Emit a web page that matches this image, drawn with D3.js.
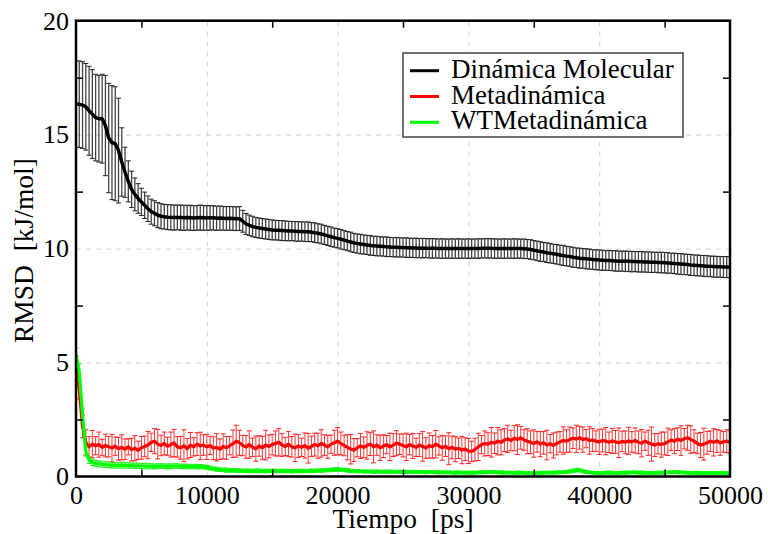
<!DOCTYPE html>
<html><head><meta charset="utf-8">
<script src="https://cdn.jsdelivr.net/npm/d3@7"></script>
<style>body{margin:0;background:#fff}svg{display:block}</style>
</head><body><svg id="c" width="768" height="534"></svg>
<script>
// time step of the samples (ps)
const STEP = 250;

// Dinámica Molecular: mean RMSD and error
const dmMean = [
16.35,16.33,16.30,16.22,16.05,15.90,15.75,15.70,15.70,15.40,14.85,14.65,14.60,14.30,13.80,13.35,12.95,12.60,12.38,12.20,
12.05,11.90,11.75,11.62,11.55,11.47,11.42,11.40,11.38,11.37,11.36,11.37,11.36,11.35,11.36,11.35,11.34,11.35,11.36,11.35,
11.34,11.35,11.35,11.33,11.34,11.33,11.32,11.33,11.32,11.31,11.32,11.20,11.08,11.02,10.97,10.93,10.90,10.88,10.86,10.84,
10.82,10.81,10.80,10.79,10.78,10.77,10.77,10.76,10.75,10.75,10.74,10.74,10.72,10.70,10.67,10.64,10.60,10.56,10.52,10.48,
10.45,10.41,10.37,10.33,10.29,10.25,10.22,10.20,10.18,10.16,10.14,10.12,10.11,10.10,10.09,10.08,10.07,10.06,10.06,10.05,
10.05,10.04,10.04,10.03,10.03,10.02,10.02,10.02,10.01,10.01,10.01,10.00,10.00,10.00,10.00,10.00,10.00,10.00,10.00,10.00,
10.00,10.00,10.00,10.00,10.01,10.01,10.01,10.01,10.00,10.00,10.00,10.00,10.00,10.00,10.00,10.00,10.00,9.99,9.98,9.96,
9.93,9.90,9.87,9.85,9.82,9.80,9.77,9.75,9.72,9.70,9.67,9.65,9.62,9.60,9.58,9.57,9.55,9.54,9.52,9.51,
9.50,9.49,9.48,9.48,9.47,9.46,9.45,9.45,9.44,9.44,9.43,9.43,9.42,9.42,9.41,9.41,9.40,9.40,9.39,9.39,
9.38,9.37,9.36,9.35,9.33,9.32,9.31,9.30,9.28,9.27,9.26,9.25,9.24,9.23,9.22,9.21,9.20,9.20,9.19,9.19,
9.18];
const dmErr = [
1.90,1.90,1.90,1.90,1.95,1.95,1.90,1.90,1.95,2.20,2.40,2.50,2.50,2.30,1.50,1.10,0.90,0.80,0.72,0.65,
0.60,0.58,0.56,0.55,0.55,0.55,0.55,0.54,0.55,0.55,0.55,0.54,0.55,0.55,0.54,0.55,0.54,0.54,0.55,0.54,
0.54,0.54,0.53,0.53,0.53,0.52,0.52,0.52,0.52,0.52,0.52,0.48,0.46,0.45,0.45,0.44,0.44,0.44,0.44,0.44,
0.44,0.43,0.43,0.44,0.43,0.43,0.42,0.43,0.43,0.42,0.43,0.43,0.42,0.43,0.42,0.43,0.42,0.42,0.43,0.42,
0.42,0.43,0.42,0.42,0.43,0.42,0.42,0.43,0.42,0.42,0.43,0.42,0.43,0.42,0.42,0.43,0.42,0.42,0.43,0.42,
0.42,0.43,0.42,0.42,0.43,0.42,0.43,0.42,0.42,0.43,0.42,0.42,0.43,0.42,0.42,0.43,0.42,0.43,0.42,0.42,
0.43,0.42,0.42,0.43,0.42,0.42,0.43,0.42,0.43,0.42,0.42,0.43,0.42,0.42,0.43,0.42,0.42,0.43,0.42,0.43,
0.42,0.43,0.43,0.42,0.43,0.43,0.42,0.43,0.43,0.44,0.43,0.43,0.44,0.43,0.44,0.43,0.44,0.44,0.43,0.44,
0.44,0.44,0.43,0.44,0.44,0.45,0.44,0.44,0.45,0.44,0.45,0.44,0.45,0.45,0.44,0.45,0.45,0.44,0.45,0.45,
0.45,0.45,0.44,0.45,0.45,0.46,0.45,0.45,0.46,0.45,0.46,0.45,0.46,0.46,0.45,0.46,0.46,0.45,0.46,0.46,
0.46];

// Metadinámica: mean RMSD and error
const mdMean = [
5.00,3.80,2.20,1.50,1.30,1.42,1.35,1.40,1.28,1.36,1.31,1.25,1.33,1.22,1.28,1.20,1.30,1.18,1.24,1.15,
1.26,1.32,1.38,1.50,1.55,1.42,1.36,1.45,1.33,1.40,1.47,1.30,1.26,1.35,1.22,1.38,1.30,1.42,1.34,1.38,
1.30,1.36,1.24,1.28,1.20,1.32,1.26,1.35,1.44,1.55,1.48,1.36,1.30,1.40,1.28,1.22,1.34,1.26,1.38,1.32,
1.40,1.45,1.50,1.38,1.32,1.42,1.30,1.26,1.34,1.28,1.36,1.24,1.32,1.40,1.35,1.45,1.38,1.30,1.42,1.48,
1.55,1.45,1.36,1.28,1.20,1.16,1.26,1.34,1.28,1.36,1.42,1.30,1.38,1.26,1.33,1.40,1.30,1.38,1.46,1.42,
1.36,1.30,1.40,1.34,1.28,1.38,1.32,1.25,1.36,1.30,1.42,1.34,1.26,1.33,1.22,1.28,1.20,1.24,1.16,1.20,
1.12,1.10,1.18,1.30,1.40,1.45,1.42,1.50,1.46,1.55,1.50,1.60,1.65,1.58,1.68,1.62,1.70,1.60,1.55,1.50,
1.45,1.52,1.42,1.48,1.38,1.44,1.36,1.45,1.52,1.58,1.55,1.62,1.68,1.65,1.70,1.62,1.66,1.58,1.60,1.55,
1.52,1.58,1.55,1.50,1.56,1.52,1.48,1.54,1.50,1.56,1.52,1.58,1.50,1.46,1.55,1.48,1.42,1.38,1.44,1.40,
1.45,1.52,1.60,1.55,1.64,1.58,1.66,1.70,1.62,1.55,1.45,1.38,1.42,1.48,1.55,1.50,1.56,1.48,1.52,1.55,
1.50];
const mdErr = [
0.30,0.40,0.50,0.55,0.45,0.60,0.40,0.55,0.35,0.50,0.45,0.60,0.40,0.50,0.55,0.45,0.35,0.50,0.55,0.40,
0.50,0.45,0.60,0.40,0.55,0.65,0.45,0.50,0.40,0.55,0.60,0.45,0.50,0.70,0.45,0.55,0.40,0.50,0.60,0.45,
0.55,0.40,0.50,0.60,0.45,0.55,0.50,0.40,0.60,0.70,0.55,0.45,0.50,0.60,0.40,0.55,0.45,0.50,0.65,0.50,
0.45,0.55,0.60,0.50,0.40,0.55,0.45,0.60,0.50,0.40,0.55,0.65,0.45,0.50,0.55,0.60,0.45,0.50,0.40,0.55,
0.60,0.50,0.45,0.55,0.65,0.50,0.40,0.55,0.45,0.60,0.50,0.70,0.45,0.55,0.50,0.40,0.60,0.50,0.55,0.45,
0.50,0.60,0.45,0.55,0.40,0.50,0.65,0.45,0.55,0.50,0.60,0.40,0.55,0.45,0.70,0.50,0.55,0.45,0.60,0.50,
0.55,0.45,0.50,0.60,0.40,0.55,0.50,0.65,0.45,0.60,0.55,0.50,0.60,0.45,0.55,0.65,0.50,0.45,0.55,0.50,
0.60,0.45,0.55,0.50,0.65,0.40,0.55,0.50,0.45,0.60,0.50,0.55,0.45,0.60,0.50,0.55,0.40,0.60,0.50,0.45,
0.55,0.50,0.60,0.45,0.55,0.50,0.65,0.45,0.50,0.60,0.45,0.55,0.50,0.60,0.40,0.55,0.75,0.50,0.45,0.55,
0.50,0.60,0.45,0.55,0.50,0.65,0.45,0.55,0.60,0.50,0.45,0.55,0.70,0.50,0.45,0.60,0.50,0.55,0.45,0.50,
0.50];

// WTMetadinámica: mean RMSD and error
const wtMean = [
5.35,4.60,2.70,1.10,0.72,0.62,0.57,0.55,0.54,0.52,0.51,0.50,0.49,0.49,0.50,0.49,0.48,0.48,0.47,0.47,
0.46,0.46,0.45,0.45,0.44,0.45,0.46,0.45,0.44,0.45,0.46,0.46,0.45,0.44,0.44,0.43,0.44,0.43,0.43,0.42,
0.40,0.37,0.34,0.32,0.30,0.29,0.28,0.27,0.27,0.26,0.26,0.25,0.25,0.25,0.24,0.25,0.25,0.24,0.24,0.25,
0.25,0.24,0.24,0.25,0.24,0.24,0.23,0.24,0.24,0.25,0.24,0.24,0.25,0.25,0.26,0.26,0.27,0.28,0.29,0.30,
0.31,0.30,0.29,0.27,0.25,0.24,0.23,0.23,0.22,0.22,0.22,0.21,0.22,0.21,0.21,0.22,0.21,0.21,0.20,0.21,
0.20,0.20,0.21,0.20,0.20,0.20,0.19,0.19,0.20,0.19,0.19,0.18,0.18,0.18,0.18,0.17,0.17,0.18,0.17,0.17,
0.17,0.17,0.17,0.18,0.18,0.19,0.19,0.20,0.19,0.18,0.18,0.17,0.17,0.17,0.16,0.17,0.17,0.16,0.16,0.16,
0.16,0.16,0.16,0.17,0.17,0.17,0.17,0.18,0.18,0.19,0.20,0.22,0.25,0.28,0.27,0.23,0.20,0.18,0.17,0.16,
0.16,0.16,0.17,0.17,0.16,0.16,0.16,0.17,0.17,0.17,0.18,0.18,0.17,0.17,0.16,0.16,0.16,0.16,0.17,0.17,
0.17,0.18,0.18,0.19,0.19,0.18,0.17,0.17,0.16,0.16,0.16,0.15,0.15,0.15,0.16,0.16,0.15,0.15,0.15,0.15,
0.15];
const wtErr = [
0.30,0.35,0.30,0.20,0.15,0.14,0.14,0.13,0.13,0.13,0.12,0.13,0.12,0.12,0.13,0.12,0.12,0.11,0.12,0.11,
0.11,0.12,0.11,0.11,0.10,0.11,0.10,0.10,0.11,0.10,0.10,0.10,0.09,0.10,0.10,0.09,0.09,0.10,0.09,0.09,
0.09,0.09,0.08,0.09,0.08,0.08,0.09,0.08,0.08,0.08,0.08,0.07,0.08,0.08,0.07,0.08,0.08,0.07,0.08,0.07,
0.07,0.08,0.07,0.07,0.08,0.07,0.07,0.07,0.08,0.07,0.07,0.07,0.08,0.07,0.07,0.08,0.07,0.07,0.08,0.08,
0.08,0.07,0.07,0.08,0.07,0.07,0.07,0.06,0.07,0.07,0.06,0.07,0.07,0.06,0.07,0.06,0.07,0.06,0.06,0.07,
0.06,0.07,0.06,0.06,0.07,0.06,0.06,0.07,0.06,0.06,0.06,0.07,0.06,0.06,0.06,0.06,0.07,0.06,0.06,0.06,
0.06,0.07,0.06,0.06,0.06,0.07,0.06,0.06,0.06,0.06,0.07,0.06,0.06,0.06,0.06,0.07,0.06,0.06,0.06,0.06,
0.06,0.06,0.07,0.06,0.06,0.06,0.06,0.07,0.06,0.06,0.07,0.07,0.08,0.08,0.07,0.07,0.06,0.06,0.06,0.06,
0.06,0.06,0.06,0.07,0.06,0.06,0.06,0.06,0.07,0.06,0.06,0.06,0.06,0.07,0.06,0.06,0.06,0.06,0.06,0.07,
0.06,0.06,0.06,0.06,0.07,0.06,0.06,0.06,0.06,0.06,0.07,0.06,0.06,0.06,0.06,0.06,0.06,0.07,0.06,0.06,
0.06];

// Axes ticks and labels
const xMajor = [0, 10000, 20000, 30000, 40000, 50000];
const xMinor = [5000, 15000, 25000, 35000, 45000];
const yMajor = [0, 5, 10, 15, 20];
const yMinor = [2.5, 7.5, 12.5, 17.5];
const xTitle = "Tiempo  [ps]";
const yTitle = "RMSD  [kJ/mol]";
const legendLabels = ["Dinámica Molecular", "Metadinámica", "WTMetadinámica"];
const colors = ["#000000", "#ff0000", "#00ff00"];

const time = dmMean.map((_, i) => i * STEP);

const FONT = "'Liberation Serif','Times New Roman',serif";
const svg = d3.select("#c");
const L = 76, R = 730, T = 20.7, B = 476.5;
const x = d3.scaleLinear().domain([0, 50000]).range([L, R]);
const y = d3.scaleLinear().domain([0, 20]).range([B, T]);

svg.append("rect").attr("width", 768).attr("height", 534).attr("fill", "#fff");

// grid (dashed)
const gx = svg.append("g").attr("transform", `translate(0,${B})`)
  .call(d3.axisBottom(x).tickValues(xMajor.slice(1, -1)).tickSize(-(B - T)).tickFormat(""));
const gy = svg.append("g").attr("transform", `translate(${L},0)`)
  .call(d3.axisLeft(y).tickValues(yMajor.slice(1, -1)).tickSize(-(R - L)).tickFormat(""));
[gx, gy].forEach(g => {
  g.select(".domain").remove();
  g.selectAll("line").attr("stroke", "#d4d4d4").attr("stroke-width", 1).attr("stroke-dasharray", "5,5");
});

// data
svg.append("defs").append("clipPath").attr("id", "clip")
  .append("rect").attr("x", L).attr("y", T).attr("width", R - L).attr("height", B - T);
const plot = svg.append("g").attr("clip-path", "url(#clip)");

const series = [
  { m: dmMean, e: dmErr, c: colors[0], bar: "#444", cap: "#222", w: 3.5, bw: 1.3 },
  { m: mdMean, e: mdErr, c: colors[1], bar: "#ff3b3b", cap: "#ff2020", w: 3.2, bw: 1 },
  { m: wtMean, e: wtErr, c: colors[2], bar: "#30ff30", cap: "#20ee20", w: 3.2, bw: 1 }
];
series.forEach(s => {
  let bars = "", caps = "";
  s.m.forEach((v, i) => {
    const px = x(time[i]), y1 = y(v + s.e[i]), y2 = y(v - s.e[i]);
    bars += `M${px},${y1}L${px},${y2}`;
    caps += `M${px - 2.5},${y1}h5M${px - 2.5},${y2}h5`;
  });
  plot.append("path").attr("d", bars).attr("stroke", s.bar).attr("stroke-width", s.bw).attr("fill", "none");
  plot.append("path").attr("d", caps).attr("stroke", s.cap).attr("stroke-width", 1).attr("fill", "none");
  plot.append("path").datum(s.m)
    .attr("d", d3.line().x((d, i) => x(time[i])).y(d => y(d)))
    .attr("fill", "none").attr("stroke", s.c).attr("stroke-width", s.w)
    .attr("stroke-linejoin", "round");
});

// minor ticks inward on all four sides
const tk = 7;
[[d3.axisBottom(x).tickValues(xMinor), `translate(0,${B})`],
 [d3.axisTop(x).tickValues(xMinor), `translate(0,${T})`],
 [d3.axisLeft(y).tickValues(yMinor), `translate(${L},0)`],
 [d3.axisRight(y).tickValues(yMinor), `translate(${R},0)`]].forEach(([ax, tr]) => {
  const g = svg.append("g").attr("transform", tr).call(ax.tickSize(-tk).tickFormat(""));
  g.select(".domain").remove();
  g.selectAll("line").attr("stroke", "#000").attr("stroke-width", 1.5);
});

// tick labels
const xl = svg.append("g").attr("transform", `translate(0,${B})`)
  .call(d3.axisBottom(x).tickValues(xMajor).tickSize(0).tickFormat(d3.format("d")));
xl.select(".domain").remove();
xl.selectAll("text").attr("y", 27.5).attr("dy", 0)
  .attr("font-family", FONT).attr("font-size", 26).attr("fill", "#000");

const yl = svg.append("g").attr("transform", `translate(${L},0)`)
  .call(d3.axisLeft(y).tickValues(yMajor).tickSize(0).tickPadding(7).tickFormat(d3.format("d")));
yl.select(".domain").remove();
yl.selectAll("text").attr("font-family", FONT).attr("font-size", 26).attr("fill", "#000");

// frame
svg.append("rect").attr("x", L).attr("y", T).attr("width", R - L).attr("height", B - T)
  .attr("fill", "none").attr("stroke", "#000").attr("stroke-width", 2.5);

// axis titles
svg.append("text").attr("x", (L + R) / 2).attr("y", 528).attr("text-anchor", "middle")
  .attr("font-family", FONT).attr("font-size", 27.5).style("white-space", "pre").text(xTitle);
svg.append("text").attr("transform", `translate(33,${(T + B) / 2 + 2}) rotate(-90)`).attr("text-anchor", "middle")
  .attr("font-family", FONT).attr("font-size", 27.5).style("white-space", "pre").text(yTitle);

// legend
const lg = svg.append("g");
lg.append("rect").attr("x", 403).attr("y", 53).attr("width", 280).attr("height", 84)
  .attr("fill", "#fff").attr("stroke", "#444").attr("stroke-width", 1.5);
legendLabels.forEach((lab, i) => {
  const by = 77.7 + i * 25.8;
  lg.append("line").attr("x1", 410).attr("x2", 439).attr("y1", by - 7).attr("y2", by - 7)
    .attr("stroke", colors[i]).attr("stroke-width", 3);
  lg.append("text").attr("x", 451).attr("y", by).attr("font-family", FONT).attr("font-size", 27).text(lab);
});
</script>
</body></html>
